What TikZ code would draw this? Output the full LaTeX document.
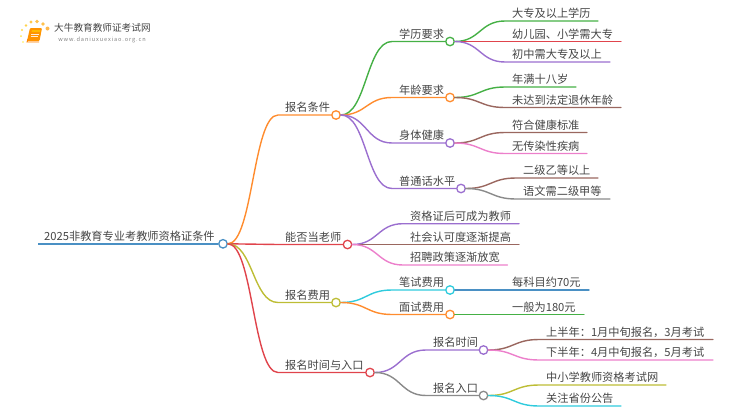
\documentclass[tikz,border=0pt]{standalone}
\usepackage{fontspec}
\setmainfont{Noto Sans CJK SC}
\usetikzlibrary{calc}
\definecolor{cblue}{HTML}{4A90C4}
\definecolor{corange}{HTML}{FF8C2E}
\definecolor{cgreen}{HTML}{45B045}
\definecolor{cred}{HTML}{E0444C}
\definecolor{cpurple}{HTML}{9B6FCF}
\definecolor{cbrown}{HTML}{9A675F}
\definecolor{cpink}{HTML}{EC7FCB}
\definecolor{cgray}{HTML}{8A8A8A}
\definecolor{colive}{HTML}{BDBD35}
\definecolor{ccyan}{HTML}{2FCBDD}
\definecolor{ctext}{HTML}{454545}
\tikzset{
  link/.style={line width=1.4pt,line cap=round},
  dotnode/.style={circle,fill=white,line width=1.3pt,minimum size=8.5pt,inner sep=0pt},
  lab/.style={anchor=base west,inner sep=0pt,text=ctext,font=\fontsize{11.2}{12}\selectfont},
  logotext/.style={anchor=base west,inner sep=0pt},
  sun/.style={fill=#1,draw=none}
}
% parent, name, x of the dot, y, text x, text, colour
\newcommand{\topicbranch}[7]{
  \node[lab] (#2T) at (#5,#4-3.5) {#6};
  \coordinate (#2K) at (#5-7,#4);
  \node[dotnode,draw=#7] (#2) at (#3,#4) {};
  \coordinate (#2M) at ($(#1.east)!.5!(#2K)$);
  \draw[link,#7] (#1.east) .. controls (#2M |- #1.east) and (#2M |- #2K) .. (#2K) -- (#2.west);
}
% parent, name, x of the free end, y, text x, text, colour
\newcommand{\leafbranch}[7]{
  \node[lab] (#2T) at (#5,#4-3.5) {#6};
  \coordinate (#2K) at (#5-7,#4);
  \coordinate (#2) at (#3,#4);
  \coordinate (#2M) at ($(#1.east)!.5!(#2K)$);
  \draw[link,#7] (#1.east) .. controls (#2M |- #1.east) and (#2M |- #2K) .. (#2K) -- (#2);
}
\begin{document}
\begin{tikzpicture}[x=1pt,y=-1pt]
\useasboundingbox (0,0) rectangle (750,410);
% logo
\foreach \px/\py/\pr/\pc in {31/22/1.7/60,37/21.5/1.8/70,43/24/1.8/70,47.5/28.5/2/80,26/25.5/1.4/50,22/30/1.2/40,21/36/1/30,23/42/.9/20}
  \fill[color=orange!\pc!yellow!70!white] (\px,\py) circle (\pr);
\fill[orange!85!yellow,rounded corners=1pt] (30,28) -- (42,28) -- (39.5,41) -- (27,41) -- cycle;
\fill[orange!55!yellow] (32,30) -- (40.5,30) -- (40,32) -- (31.5,32) -- cycle;
\draw[white!85!orange,line width=.6pt] (31,34) -- (38.5,34) (30.7,36) -- (38,36);
\draw[orange,line width=.8pt] (28,39) -- (27,42) -- (39,42);
\node[logotext,text=ctext,font=\fontsize{9.65}{10}\selectfont] (logoT) at (54,31) {大牛教育教师证考试网};
\node[logotext,text=black!50,font=\fontsize{5.6}{6}\selectfont,anchor=base] (logoU) at (102,41) {\addfontfeatures{LetterSpace=16}www.daniuxuexiao.org.cn};
% root
\node[lab] (rootT) at (44,240.2) {2025非教育专业考教师资格证条件};
\coordinate (rootS) at (38,243.8);
\node[dotnode,draw=cblue] (root) at (223,243.8) {};
\draw[line width=2pt,cblue] (rootS) -- (root.west);
% level 1
\topicbranch{root}{a}{336}{115}{285}{报名条件}{corange}
\topicbranch{root}{b}{347.5}{244.5}{285}{能否当老师}{cred}
\topicbranch{root}{c}{336}{302.5}{285}{报名费用}{colive}
\topicbranch{root}{d}{370}{372.5}{285}{报名时间与入口}{cred}
% level 2
\topicbranch{a}{a1}{450}{41.5}{399}{学历要求}{cgreen}
\topicbranch{a}{a2}{450}{97.5}{399}{年龄要求}{corange}
\topicbranch{a}{a3}{450}{143}{399}{身体健康}{cpurple}
\topicbranch{a}{a4}{461}{188.5}{399}{普通话水平}{cpurple}
\topicbranch{c}{c1}{450}{290}{399}{笔试费用}{ccyan}
\topicbranch{c}{c2}{450}{314.5}{399}{面试费用}{corange}
\topicbranch{d}{d1}{483.5}{350}{433}{报名时间}{cpurple}
\topicbranch{d}{d2}{483.5}{395.5}{433}{报名入口}{cgray}
% leaves
\leafbranch{a1}{l1}{598}{21}{512}{大专及以上学历}{cgreen}
\leafbranch{a1}{l2}{621}{41.5}{512}{幼儿园、小学需大专}{cred}
\leafbranch{a1}{l3}{610}{62}{512}{初中需大专及以上}{cpurple}
\leafbranch{a2}{l4}{576}{87}{512}{年满十八岁}{cgreen}
\leafbranch{a2}{l5}{621}{107.5}{512}{未达到法定退休年龄}{cbrown}
\leafbranch{a3}{l6}{587}{132.5}{512}{符合健康标准}{cbrown}
\leafbranch{a3}{l7}{587}{153.5}{512}{无传染性疾病}{cpink}
\leafbranch{a4}{l8}{598}{178}{523}{二级乙等以上}{cbrown}
\leafbranch{a4}{l9}{610}{199}{523}{语文需二级甲等}{cgray}
\leafbranch{b}{m1}{519}{223.7}{410}{资格证后可成为教师}{cpurple}
\leafbranch{b}{m2}{519}{244.5}{410}{社会认可度逐渐提高}{cbrown}
\leafbranch{b}{m3}{507.5}{265}{410}{招聘政策逐渐放宽}{cpink}
\leafbranch{c1}{n1}{589}{290}{512}{每科目约70元}{cblue}
\leafbranch{c2}{n2}{584}{314.5}{512}{一般为180元}{cgreen}
\leafbranch{d1}{p1}{713}{339.5}{546}{上半年：1月中旬报名，3月考试}{cbrown}
\leafbranch{d1}{p2}{713}{360}{546}{下半年：4月中旬报名，5月考试}{cpink}
\leafbranch{d2}{p3}{666}{385}{546}{中小学教师资格考试网}{colive}
\leafbranch{d2}{p4}{621}{406}{546}{关注省份公告}{ccyan}
\end{tikzpicture}
\end{document}
